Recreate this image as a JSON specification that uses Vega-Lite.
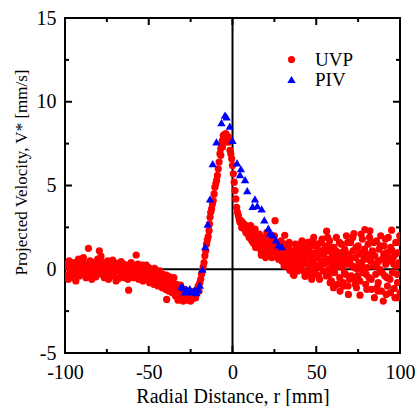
{
  "$schema": "https://vega.github.io/schema/vega-lite/v6.json",
  "width": 335,
  "height": 335,
  "autosize": {"type": "none"},
  "padding": {"left": 65, "top": 18, "right": 16, "bottom": 53},
  "background": "white",
  "config": {
    "view": {"stroke": "black", "strokeWidth": 2},
    "font": "Liberation Serif",
    "scale": {"continuousPadding": 0},
    "axis": {
      "domain": false,
      "grid": false,
      "ticks": false,
      "labelFlush": false,
      "labelOverlap": false,
      "labelColor": "black",
      "labelFont": "Liberation Serif",
      "labelFontSize": 20,
      "titleFont": "Liberation Serif",
      "titleFontWeight": "normal",
      "titleColor": "black"
    }
  },
  "datasets": {
    "xmajor": [{"t": -50}, {"t": 0}, {"t": 50}],
    "xminor": [{"t": -75}, {"t": -25}, {"t": 25}, {"t": 75}],
    "ymajor": [{"t": 0}, {"t": 5}, {"t": 10}],
    "yminor": [{"t": -2.5}, {"t": 2.5}, {"t": 7.5}, {"t": 12.5}],
    "pts": [
      {"r": -99.5, "v": 0.3, "s": "UVP"}, {"r": -99, "v": -0.4, "s": "UVP"}, {"r": -98.5, "v": 0.1, "s": "UVP"}, {"r": -98, "v": -0.6, "s": "UVP"}, {"r": -97.5, "v": 0.5, "s": "UVP"}, {"r": -97, "v": -0.2, "s": "UVP"}, {"r": -96.5, "v": 0.2, "s": "UVP"}, {"r": -96, "v": -0.5, "s": "UVP"}, {"r": -95.5, "v": 0.0, "s": "UVP"}, {"r": -95, "v": 0.4, "s": "UVP"},
      {"r": -94.5, "v": -0.3, "s": "UVP"}, {"r": -94, "v": 0.1, "s": "UVP"}, {"r": -93.5, "v": -0.7, "s": "UVP"}, {"r": -93, "v": 0.3, "s": "UVP"}, {"r": -92.5, "v": -0.1, "s": "UVP"}, {"r": -92, "v": 0.6, "s": "UVP"}, {"r": -91.5, "v": -0.4, "s": "UVP"}, {"r": -91, "v": 0.2, "s": "UVP"}, {"r": -90.5, "v": 0.0, "s": "UVP"}, {"r": -90, "v": -0.3, "s": "UVP"},
      {"r": -89.5, "v": 0.45, "s": "UVP"}, {"r": -89, "v": 0.7, "s": "UVP"}, {"r": -88.5, "v": -0.2, "s": "UVP"}, {"r": -88, "v": 0.1, "s": "UVP"}, {"r": -87.5, "v": -0.5, "s": "UVP"}, {"r": -87, "v": 0.3, "s": "UVP"}, {"r": -86.5, "v": 0.0, "s": "UVP"}, {"r": -86, "v": 1.25, "s": "UVP"}, {"r": -85.5, "v": -0.3, "s": "UVP"}, {"r": -85, "v": 0.5, "s": "UVP"},
      {"r": -84.5, "v": 0.2, "s": "UVP"}, {"r": -84, "v": -0.6, "s": "UVP"}, {"r": -83.5, "v": 0.1, "s": "UVP"}, {"r": -83, "v": 0.4, "s": "UVP"}, {"r": -82.5, "v": -0.2, "s": "UVP"}, {"r": -82, "v": 0.0, "s": "UVP"}, {"r": -81.5, "v": -0.45, "s": "UVP"}, {"r": -81, "v": 0.3, "s": "UVP"}, {"r": -80.5, "v": 0.6, "s": "UVP"}, {"r": -80, "v": -0.1, "s": "UVP"},
      {"r": -79.5, "v": 1.1, "s": "UVP"}, {"r": -79, "v": 0.2, "s": "UVP"}, {"r": -78.5, "v": 0.78, "s": "UVP"}, {"r": -78, "v": -0.3, "s": "UVP"}, {"r": -77.5, "v": 0.0, "s": "UVP"}, {"r": -77, "v": 0.4, "s": "UVP"}, {"r": -76.5, "v": -0.5, "s": "UVP"}, {"r": -76, "v": 0.1, "s": "UVP"}, {"r": -75.5, "v": 0.25, "s": "UVP"}, {"r": -75, "v": -0.2, "s": "UVP"},
      {"r": -74.5, "v": 0.5, "s": "UVP"}, {"r": -74, "v": -0.6, "s": "UVP"}, {"r": -73.5, "v": 0.0, "s": "UVP"}, {"r": -73, "v": 0.3, "s": "UVP"}, {"r": -72.5, "v": -0.3, "s": "UVP"}, {"r": -72, "v": 0.1, "s": "UVP"}, {"r": -71.5, "v": 0.55, "s": "UVP"}, {"r": -71, "v": -0.4, "s": "UVP"}, {"r": -70.5, "v": 0.2, "s": "UVP"}, {"r": -70, "v": -0.1, "s": "UVP"},
      {"r": -69.5, "v": -0.7, "s": "UVP"}, {"r": -69, "v": 0.35, "s": "UVP"}, {"r": -68.5, "v": 0.0, "s": "UVP"}, {"r": -68, "v": -0.55, "s": "UVP"}, {"r": -67.5, "v": 0.2, "s": "UVP"}, {"r": -67, "v": -0.2, "s": "UVP"}, {"r": -66.5, "v": 0.45, "s": "UVP"}, {"r": -66, "v": -0.35, "s": "UVP"}, {"r": -65.5, "v": 0.1, "s": "UVP"}, {"r": -65, "v": 0.3, "s": "UVP"},
      {"r": -64.5, "v": -0.5, "s": "UVP"}, {"r": -64, "v": 0.0, "s": "UVP"}, {"r": -63.5, "v": -0.2, "s": "UVP"}, {"r": -63, "v": 0.25, "s": "UVP"}, {"r": -62.5, "v": -0.6, "s": "UVP"}, {"r": -62, "v": -1.25, "s": "UVP"}, {"r": -61.5, "v": 0.1, "s": "UVP"}, {"r": -61, "v": -0.3, "s": "UVP"}, {"r": -60.5, "v": 0.4, "s": "UVP"}, {"r": -60, "v": -0.15, "s": "UVP"},
      {"r": -59.5, "v": 0.0, "s": "UVP"}, {"r": -59, "v": -0.5, "s": "UVP"}, {"r": -58.5, "v": 0.2, "s": "UVP"}, {"r": -58, "v": -0.35, "s": "UVP"}, {"r": -57.5, "v": 0.85, "s": "UVP"}, {"r": -57, "v": -0.1, "s": "UVP"}, {"r": -56.5, "v": 0.3, "s": "UVP"}, {"r": -56, "v": -0.6, "s": "UVP"}, {"r": -55.5, "v": -0.2, "s": "UVP"}, {"r": -55, "v": 0.1, "s": "UVP"},
      {"r": -54.5, "v": -0.45, "s": "UVP"}, {"r": -54, "v": 0.25, "s": "UVP"}, {"r": -53.5, "v": -0.7, "s": "UVP"}, {"r": -53, "v": -0.1, "s": "UVP"}, {"r": -52.5, "v": 0.0, "s": "UVP"}, {"r": -52, "v": -0.4, "s": "UVP"}, {"r": -51.5, "v": 0.24, "s": "UVP"}, {"r": -51, "v": -0.6, "s": "UVP"}, {"r": -50.5, "v": -0.2, "s": "UVP"}, {"r": -50, "v": 0.1, "s": "UVP"},
      {"r": -49.5, "v": -0.8, "s": "UVP"}, {"r": -49, "v": -0.3, "s": "UVP"}, {"r": -48.5, "v": 0.0, "s": "UVP"}, {"r": -48, "v": -0.55, "s": "UVP"}, {"r": -47.5, "v": -0.2, "s": "UVP"}, {"r": -47, "v": -0.9, "s": "UVP"}, {"r": -46.5, "v": 0.05, "s": "UVP"}, {"r": -46, "v": -0.45, "s": "UVP"}, {"r": -45.5, "v": -0.7, "s": "UVP"}, {"r": -45, "v": -0.15, "s": "UVP"},
      {"r": -44.5, "v": -1.0, "s": "UVP"}, {"r": -44, "v": -0.4, "s": "UVP"}, {"r": -43.5, "v": -0.1, "s": "UVP"}, {"r": -43, "v": -0.75, "s": "UVP"}, {"r": -42.5, "v": -0.5, "s": "UVP"}, {"r": -42, "v": -1.1, "s": "UVP"}, {"r": -41.5, "v": -0.3, "s": "UVP"}, {"r": -41, "v": -0.8, "s": "UVP"}, {"r": -40.5, "v": -0.55, "s": "UVP"}, {"r": -40, "v": -1.2, "s": "UVP"},
      {"r": -39.5, "v": -0.35, "s": "UVP"}, {"r": -39.3, "v": -1.8, "s": "UVP"}, {"r": -39, "v": -0.9, "s": "UVP"}, {"r": -38.5, "v": -0.6, "s": "UVP"}, {"r": -38, "v": -1.3, "s": "UVP"}, {"r": -37.5, "v": -0.45, "s": "UVP"}, {"r": -37, "v": -1.0, "s": "UVP"}, {"r": -36.5, "v": -0.7, "s": "UVP"}, {"r": -36, "v": -1.4, "s": "UVP"}, {"r": -35.5, "v": -0.85, "s": "UVP"},
      {"r": -35, "v": -0.5, "s": "UVP"}, {"r": -34.5, "v": -1.1, "s": "UVP"}, {"r": -34, "v": -1.6, "s": "UVP"}, {"r": -33.5, "v": -0.9, "s": "UVP"}, {"r": -33, "v": -1.4, "s": "UVP"}, {"r": -32.5, "v": -1.85, "s": "UVP"}, {"r": -32, "v": -1.2, "s": "UVP"}, {"r": -31.5, "v": -1.6, "s": "UVP"}, {"r": -31, "v": -0.95, "s": "UVP"}, {"r": -30.5, "v": -1.75, "s": "UVP"},
      {"r": -30, "v": -1.35, "s": "UVP"}, {"r": -29.5, "v": -1.9, "s": "UVP"}, {"r": -29, "v": -1.5, "s": "UVP"}, {"r": -28.5, "v": -1.2, "s": "UVP"}, {"r": -28, "v": -1.8, "s": "UVP"}, {"r": -27.5, "v": -1.55, "s": "UVP"}, {"r": -27, "v": -1.3, "s": "UVP"}, {"r": -26.5, "v": -1.85, "s": "UVP"}, {"r": -26, "v": -1.6, "s": "UVP"}, {"r": -25.5, "v": -1.4, "s": "UVP"},
      {"r": -25, "v": -1.9, "s": "UVP"}, {"r": -24.5, "v": -1.65, "s": "UVP"}, {"r": -24, "v": -1.45, "s": "UVP"}, {"r": -23.5, "v": -1.75, "s": "UVP"}, {"r": -23, "v": -1.5, "s": "UVP"}, {"r": -22.5, "v": -1.3, "s": "UVP"}, {"r": -22, "v": -1.7, "s": "UVP"}, {"r": -21.5, "v": -1.45, "s": "UVP"}, {"r": -21, "v": -1.2, "s": "UVP"}, {"r": -20.5, "v": -1.0, "s": "UVP"},
      {"r": -20, "v": -1.3, "s": "UVP"}, {"r": -19.5, "v": -0.8, "s": "UVP"}, {"r": -19, "v": -0.6, "s": "UVP"}, {"r": -18.5, "v": -0.3, "s": "UVP"}, {"r": -18, "v": -0.1, "s": "UVP"}, {"r": -17.5, "v": 0.15, "s": "UVP"}, {"r": -17, "v": 0.4, "s": "UVP"}, {"r": -16.5, "v": 0.8, "s": "UVP"}, {"r": -16, "v": 1.1, "s": "UVP"}, {"r": -15.5, "v": 1.5, "s": "UVP"},
      {"r": -15, "v": 1.75, "s": "UVP"}, {"r": -14.5, "v": 1.95, "s": "UVP"}, {"r": -14, "v": 2.3, "s": "UVP"}, {"r": -13.7, "v": 2.7, "s": "UVP"}, {"r": -13.4, "v": 3.1, "s": "UVP"}, {"r": -13, "v": 3.4, "s": "UVP"}, {"r": -12.5, "v": 3.6, "s": "UVP"}, {"r": -12, "v": 3.9, "s": "UVP"}, {"r": -11.5, "v": 4.1, "s": "UVP"}, {"r": -11, "v": 4.5, "s": "UVP"},
      {"r": -10.5, "v": 4.9, "s": "UVP"}, {"r": -10, "v": 5.1, "s": "UVP"}, {"r": -9.5, "v": 5.3, "s": "UVP"}, {"r": -9, "v": 5.6, "s": "UVP"}, {"r": -8.5, "v": 6.0, "s": "UVP"}, {"r": -8, "v": 6.4, "s": "UVP"}, {"r": -7.5, "v": 6.9, "s": "UVP"}, {"r": -7, "v": 7.2, "s": "UVP"}, {"r": -7, "v": 6.8, "s": "UVP"}, {"r": -6.5, "v": 7.5, "s": "UVP"},
      {"r": -6, "v": 7.7, "s": "UVP"}, {"r": -6, "v": 7.3, "s": "UVP"}, {"r": -5.5, "v": 8.0, "s": "UVP"}, {"r": -5.5, "v": 7.6, "s": "UVP"}, {"r": -5, "v": 7.8, "s": "UVP"}, {"r": -4.5, "v": 8.05, "s": "UVP"}, {"r": -4, "v": 7.9, "s": "UVP"}, {"r": -4, "v": 8.1, "s": "UVP"}, {"r": -3.5, "v": 8.0, "s": "UVP"}, {"r": -3, "v": 7.85, "s": "UVP"},
      {"r": -3, "v": 7.6, "s": "UVP"}, {"r": -2.5, "v": 7.9, "s": "UVP"}, {"r": -2, "v": 7.6, "s": "UVP"}, {"r": -1.5, "v": 7.1, "s": "UVP"}, {"r": -1, "v": 6.9, "s": "UVP"}, {"r": -0.5, "v": 6.6, "s": "UVP"}, {"r": 0, "v": 6.2, "s": "UVP"}, {"r": 0.5, "v": 5.7, "s": "UVP"}, {"r": 1, "v": 5.2, "s": "UVP"}, {"r": 1.5, "v": 4.7, "s": "UVP"},
      {"r": 2, "v": 4.2, "s": "UVP"}, {"r": 2.5, "v": 3.7, "s": "UVP"}, {"r": 3, "v": 3.4, "s": "UVP"}, {"r": 3.5, "v": 3.2, "s": "UVP"}, {"r": 4, "v": 3.0, "s": "UVP"}, {"r": 4.5, "v": 2.8, "s": "UVP"}, {"r": 5, "v": 2.9, "s": "UVP"}, {"r": 5.5, "v": 2.5, "s": "UVP"}, {"r": 6, "v": 2.8, "s": "UVP"}, {"r": 6.4, "v": 2.7, "s": "UVP"},
      {"r": 7, "v": 2.4, "s": "UVP"}, {"r": 7.5, "v": 2.65, "s": "UVP"}, {"r": 8, "v": 2.2, "s": "UVP"}, {"r": 8.5, "v": 2.5, "s": "UVP"}, {"r": 9, "v": 2.1, "s": "UVP"}, {"r": 9.3, "v": 2.35, "s": "UVP"}, {"r": 10, "v": 1.9, "s": "UVP"}, {"r": 10.4, "v": 2.3, "s": "UVP"}, {"r": 11, "v": 2.0, "s": "UVP"}, {"r": 11.5, "v": 1.7, "s": "UVP"},
      {"r": 12, "v": 2.2, "s": "UVP"}, {"r": 12.5, "v": 1.55, "s": "UVP"}, {"r": 13, "v": 1.9, "s": "UVP"}, {"r": 13.5, "v": 2.4, "s": "UVP"}, {"r": 14, "v": 1.6, "s": "UVP"}, {"r": 14.4, "v": 1.95, "s": "UVP"}, {"r": 15, "v": 1.3, "s": "UVP"}, {"r": 15.5, "v": 1.8, "s": "UVP"}, {"r": 16, "v": 2.1, "s": "UVP"}, {"r": 16.5, "v": 1.4, "s": "UVP"},
      {"r": 17, "v": 1.1, "s": "UVP"}, {"r": 17.2, "v": 0.84, "s": "UVP"}, {"r": 17.5, "v": 1.7, "s": "UVP"}, {"r": 18, "v": 1.3, "s": "UVP"}, {"r": 18.4, "v": 1.55, "s": "UVP"}, {"r": 19, "v": 1.9, "s": "UVP"}, {"r": 19.5, "v": 1.0, "s": "UVP"}, {"r": 20, "v": 1.4, "s": "UVP"}, {"r": 20.5, "v": 2.2, "s": "UVP"}, {"r": 21, "v": 0.9, "s": "UVP"},
      {"r": 21.5, "v": 1.6, "s": "UVP"}, {"r": 22, "v": 1.2, "s": "UVP"}, {"r": 22.4, "v": 1.1, "s": "UVP"}, {"r": 23, "v": 1.8, "s": "UVP"}, {"r": 23.5, "v": 0.7, "s": "UVP"}, {"r": 24, "v": 1.35, "s": "UVP"}, {"r": 24.5, "v": 1.0, "s": "UVP"}, {"r": 25, "v": 2.0, "s": "UVP"}, {"r": 25.4, "v": 2.9, "s": "UVP"}, {"r": 26, "v": 0.8, "s": "UVP"},
      {"r": 26.5, "v": 1.5, "s": "UVP"}, {"r": 27, "v": 1.1, "s": "UVP"}, {"r": 27.5, "v": 0.6, "s": "UVP"}, {"r": 28, "v": 1.3, "s": "UVP"}, {"r": 28.5, "v": 0.9, "s": "UVP"}, {"r": 29, "v": 1.7, "s": "UVP"}, {"r": 29.5, "v": 0.5, "s": "UVP"}, {"r": 30, "v": 1.2, "s": "UVP"}, {"r": 30.5, "v": 0.8, "s": "UVP"}, {"r": 31, "v": 1.5, "s": "UVP"},
      {"r": 31.2, "v": 2.03, "s": "UVP"}, {"r": 32, "v": 0.4, "s": "UVP"}, {"r": 32.5, "v": 1.0, "s": "UVP"}, {"r": 33, "v": 0.7, "s": "UVP"}, {"r": 33.5, "v": 1.3, "s": "UVP"}, {"r": 34, "v": 0.2, "s": "UVP"}, {"r": 34.2, "v": -0.06, "s": "UVP"}, {"r": 35, "v": 0.9, "s": "UVP"}, {"r": 35.5, "v": 0.4, "s": "UVP"}, {"r": 36, "v": 1.1, "s": "UVP"},
      {"r": 10.8, "v": 2.6, "s": "UVP"}, {"r": 13.8, "v": 1.3, "s": "UVP"}, {"r": 16.8, "v": 1.8, "s": "UVP"}, {"r": 19.8, "v": 0.7, "s": "UVP"}, {"r": 22.8, "v": 1.5, "s": "UVP"}, {"r": 25.8, "v": 1.2, "s": "UVP"}, {"r": 28.8, "v": 1.0, "s": "UVP"}, {"r": 31.8, "v": 0.6, "s": "UVP"}, {"r": 33.8, "v": 1.6, "s": "UVP"}, {"r": 30.8, "v": 0.2, "s": "UVP"},
      {"r": 36.3, "v": -0.3, "s": "UVP"}, {"r": 36.7, "v": -0.36, "s": "UVP"}, {"r": 37, "v": 0.6, "s": "UVP"}, {"r": 37.5, "v": 1.5, "s": "UVP"}, {"r": 38, "v": 0.2, "s": "UVP"}, {"r": 38.5, "v": 0.9, "s": "UVP"}, {"r": 39, "v": -0.1, "s": "UVP"}, {"r": 39.5, "v": 1.3, "s": "UVP"}, {"r": 40, "v": 0.5, "s": "UVP"}, {"r": 40.5, "v": 0.0, "s": "UVP"},
      {"r": 41, "v": 1.0, "s": "UVP"}, {"r": 41.5, "v": 1.7, "s": "UVP"}, {"r": 42, "v": 0.3, "s": "UVP"}, {"r": 42.5, "v": 0.7, "s": "UVP"}, {"r": 43, "v": -0.2, "s": "UVP"}, {"r": 43.3, "v": -0.42, "s": "UVP"}, {"r": 44, "v": 1.2, "s": "UVP"}, {"r": 44.5, "v": 0.4, "s": "UVP"}, {"r": 45, "v": 1.6, "s": "UVP"}, {"r": 45.5, "v": 0.1, "s": "UVP"},
      {"r": 46, "v": 0.8, "s": "UVP"}, {"r": 46.5, "v": -0.35, "s": "UVP"}, {"r": 47, "v": 1.4, "s": "UVP"}, {"r": 47.5, "v": 0.6, "s": "UVP"}, {"r": 48, "v": 0.0, "s": "UVP"}, {"r": 48.5, "v": 1.9, "s": "UVP"}, {"r": 49, "v": 0.3, "s": "UVP"}, {"r": 49.5, "v": 1.0, "s": "UVP"}, {"r": 50, "v": -0.3, "s": "UVP"}, {"r": 50.5, "v": 0.7, "s": "UVP"},
      {"r": 51, "v": 1.5, "s": "UVP"}, {"r": 51.5, "v": 0.2, "s": "UVP"}, {"r": 52, "v": -0.6, "s": "UVP"}, {"r": 52.5, "v": 1.1, "s": "UVP"}, {"r": 53, "v": 0.5, "s": "UVP"}, {"r": 53.5, "v": 1.8, "s": "UVP"}, {"r": 54, "v": -0.1, "s": "UVP"}, {"r": 54.5, "v": 0.9, "s": "UVP"}, {"r": 55, "v": 0.35, "s": "UVP"}, {"r": 55.5, "v": 1.4, "s": "UVP"},
      {"r": 56, "v": -0.4, "s": "UVP"}, {"r": 56.2, "v": 2.27, "s": "UVP"}, {"r": 56.5, "v": 0.6, "s": "UVP"}, {"r": 57, "v": 1.1, "s": "UVP"}, {"r": 57.5, "v": 0.0, "s": "UVP"}, {"r": 58, "v": 1.7, "s": "UVP"}, {"r": 58.5, "v": 0.4, "s": "UVP"}, {"r": 59, "v": -0.7, "s": "UVP"}, {"r": 59.5, "v": 0.9, "s": "UVP"}, {"r": 60, "v": 0.2, "s": "UVP"},
      {"r": 60.5, "v": 1.3, "s": "UVP"}, {"r": 61, "v": -0.2, "s": "UVP"}, {"r": 61.5, "v": 0.7, "s": "UVP"}, {"r": 62, "v": 1.9, "s": "UVP"}, {"r": 62.5, "v": -0.9, "s": "UVP"}, {"r": 63, "v": 0.4, "s": "UVP"}, {"r": 63.5, "v": 1.0, "s": "UVP"}, {"r": 64, "v": -0.5, "s": "UVP"}, {"r": 64.2, "v": -1.3, "s": "UVP"}, {"r": 64.5, "v": 0.8, "s": "UVP"},
      {"r": 65, "v": 1.5, "s": "UVP"}, {"r": 65.5, "v": 0.1, "s": "UVP"}, {"r": 66, "v": -0.8, "s": "UVP"}, {"r": 66.5, "v": 0.6, "s": "UVP"}, {"r": 67, "v": 1.2, "s": "UVP"}, {"r": 67.5, "v": -0.3, "s": "UVP"}, {"r": 68, "v": 2.0, "s": "UVP"}, {"r": 68.5, "v": 0.3, "s": "UVP"}, {"r": 69, "v": -1.0, "s": "UVP"}, {"r": 69.2, "v": -1.5, "s": "UVP"},
      {"r": 69.5, "v": 0.9, "s": "UVP"}, {"r": 70, "v": 0.5, "s": "UVP"}, {"r": 70.5, "v": 1.6, "s": "UVP"}, {"r": 71, "v": -0.4, "s": "UVP"}, {"r": 71.5, "v": 0.2, "s": "UVP"}, {"r": 72, "v": 1.1, "s": "UVP"}, {"r": 72.5, "v": 2.13, "s": "UVP"}, {"r": 73, "v": -0.6, "s": "UVP"}, {"r": 73.5, "v": 0.7, "s": "UVP"}, {"r": 74, "v": -1.1, "s": "UVP"},
      {"r": 74.5, "v": 0.0, "s": "UVP"}, {"r": 75, "v": 1.4, "s": "UVP"}, {"r": 75.5, "v": 0.4, "s": "UVP"}, {"r": 76, "v": -0.7, "s": "UVP"}, {"r": 76.1, "v": -1.55, "s": "UVP"}, {"r": 76.5, "v": 1.0, "s": "UVP"}, {"r": 77, "v": 0.3, "s": "UVP"}, {"r": 77.5, "v": 1.8, "s": "UVP"}, {"r": 78, "v": -0.2, "s": "UVP"}, {"r": 78.5, "v": 0.6, "s": "UVP"},
      {"r": 79, "v": 2.37, "s": "UVP"}, {"r": 79.5, "v": -0.9, "s": "UVP"}, {"r": 80, "v": 0.9, "s": "UVP"}, {"r": 80.5, "v": 0.1, "s": "UVP"}, {"r": 81, "v": 1.5, "s": "UVP"}, {"r": 81.5, "v": -0.5, "s": "UVP"}, {"r": 82, "v": 2.29, "s": "UVP"}, {"r": 82.5, "v": 0.5, "s": "UVP"}, {"r": 83, "v": -1.2, "s": "UVP"}, {"r": 83.5, "v": 1.1, "s": "UVP"},
      {"r": 84, "v": 0.2, "s": "UVP"}, {"r": 84.7, "v": -1.7, "s": "UVP"}, {"r": 85, "v": 0.8, "s": "UVP"}, {"r": 85.5, "v": -0.3, "s": "UVP"}, {"r": 86, "v": 1.7, "s": "UVP"}, {"r": 86.5, "v": 0.4, "s": "UVP"}, {"r": 87, "v": -0.8, "s": "UVP"}, {"r": 87.5, "v": 1.2, "s": "UVP"}, {"r": 88, "v": 0.0, "s": "UVP"}, {"r": 88.5, "v": 2.0, "s": "UVP"},
      {"r": 89, "v": -1.3, "s": "UVP"}, {"r": 89.5, "v": 0.6, "s": "UVP"}, {"r": 90, "v": -1.9, "s": "UVP"}, {"r": 90.5, "v": 1.4, "s": "UVP"}, {"r": 91, "v": -0.4, "s": "UVP"}, {"r": 91.5, "v": 0.3, "s": "UVP"}, {"r": 92, "v": 1.0, "s": "UVP"}, {"r": 92.5, "v": -1.0, "s": "UVP"}, {"r": 93, "v": 1.9, "s": "UVP"}, {"r": 93.5, "v": 0.5, "s": "UVP"},
      {"r": 94, "v": -0.6, "s": "UVP"}, {"r": 94.5, "v": 1.3, "s": "UVP"}, {"r": 95, "v": 2.33, "s": "UVP"}, {"r": 95.5, "v": -0.2, "s": "UVP"}, {"r": 96, "v": 0.7, "s": "UVP"}, {"r": 96.5, "v": -1.15, "s": "UVP"}, {"r": 97, "v": -1.7, "s": "UVP"}, {"r": 97.5, "v": 1.6, "s": "UVP"}, {"r": 98, "v": 0.2, "s": "UVP"}, {"r": 98.5, "v": -0.8, "s": "UVP"},
      {"r": 99, "v": 1.0, "s": "UVP"}, {"r": 99.5, "v": 0.4, "s": "UVP"}, {"r": 100, "v": -1.4, "s": "UVP"}, {"r": 99.8, "v": 2.0, "s": "UVP"},
      {"r": 35.8, "v": 0.7, "s": "UVP"}, {"r": 37.3, "v": 0.1, "s": "UVP"}, {"r": 38.2, "v": 1.2, "s": "UVP"}, {"r": 39.2, "v": 0.5, "s": "UVP"}, {"r": 40.3, "v": 1.5, "s": "UVP"}, {"r": 41.3, "v": 0.6, "s": "UVP"}, {"r": 42.3, "v": 1.3, "s": "UVP"}, {"r": 43.6, "v": 0.9, "s": "UVP"}, {"r": 44.8, "v": -0.1, "s": "UVP"}, {"r": 45.8, "v": 1.1, "s": "UVP"},
      {"r": 46.8, "v": 0.3, "s": "UVP"}, {"r": 47.8, "v": 1.7, "s": "UVP"}, {"r": 48.8, "v": 0.8, "s": "UVP"}, {"r": 49.8, "v": 1.4, "s": "UVP"}, {"r": 50.8, "v": 0.1, "s": "UVP"}, {"r": 51.8, "v": 0.9, "s": "UVP"}, {"r": 52.8, "v": 1.6, "s": "UVP"}, {"r": 53.8, "v": 0.3, "s": "UVP"}, {"r": 54.8, "v": 1.2, "s": "UVP"}, {"r": 55.8, "v": 0.5, "s": "UVP"},
      {"r": 56.8, "v": 1.9, "s": "UVP"}, {"r": 57.8, "v": -0.3, "s": "UVP"}, {"r": 58.8, "v": 1.3, "s": "UVP"}, {"r": 59.8, "v": 0.6, "s": "UVP"}, {"r": 60.8, "v": 0.0, "s": "UVP"}, {"r": 61.8, "v": 1.1, "s": "UVP"}, {"r": 62.8, "v": 0.2, "s": "UVP"}, {"r": 63.8, "v": 1.6, "s": "UVP"}, {"r": 64.8, "v": 0.4, "s": "UVP"}, {"r": 65.8, "v": 1.0, "s": "UVP"},
      {"r": 66.8, "v": -0.2, "s": "UVP"}, {"r": 67.8, "v": 0.8, "s": "UVP"}, {"r": 68.8, "v": 1.6, "s": "UVP"}, {"r": 69.8, "v": -0.6, "s": "UVP"}, {"r": 70.8, "v": 0.7, "s": "UVP"}, {"r": 71.8, "v": 1.9, "s": "UVP"}, {"r": 72.8, "v": 0.1, "s": "UVP"}, {"r": 73.8, "v": 1.3, "s": "UVP"}, {"r": 74.8, "v": -0.4, "s": "UVP"}, {"r": 75.8, "v": 0.9, "s": "UVP"},
      {"r": 76.8, "v": 2.1, "s": "UVP"}, {"r": 77.8, "v": 0.0, "s": "UVP"}, {"r": 78.8, "v": 1.2, "s": "UVP"}, {"r": 79.8, "v": -0.3, "s": "UVP"}, {"r": 80.8, "v": 0.6, "s": "UVP"}, {"r": 81.8, "v": 1.9, "s": "UVP"}, {"r": 82.8, "v": -0.6, "s": "UVP"}, {"r": 83.8, "v": 0.9, "s": "UVP"}, {"r": 84.4, "v": 1.6, "s": "UVP"}, {"r": 85.3, "v": 0.2, "s": "UVP"},
      {"r": 86.3, "v": -1.1, "s": "UVP"}, {"r": 87.3, "v": 0.5, "s": "UVP"}, {"r": 88.3, "v": 1.4, "s": "UVP"}, {"r": 89.3, "v": -0.2, "s": "UVP"}, {"r": 90.3, "v": 0.9, "s": "UVP"}, {"r": 91.3, "v": 1.8, "s": "UVP"}, {"r": 92.3, "v": -0.5, "s": "UVP"}, {"r": 93.3, "v": 0.7, "s": "UVP"}, {"r": 94.3, "v": -1.4, "s": "UVP"}, {"r": 95.3, "v": 1.1, "s": "UVP"},
      {"r": 96.3, "v": 0.3, "s": "UVP"}, {"r": 97.3, "v": 0.9, "s": "UVP"}, {"r": 98.3, "v": -0.3, "s": "UVP"}, {"r": 99.3, "v": 1.6, "s": "UVP"}, {"r": 98.8, "v": -1.7, "s": "UVP"}, {"r": 91.8, "v": -1.5, "s": "UVP"}, {"r": 86.8, "v": -1.3, "s": "UVP"}, {"r": 80.2, "v": -1.2, "s": "UVP"}, {"r": 73.3, "v": -0.9, "s": "UVP"}, {"r": 66.3, "v": -1.0, "s": "UVP"},
      {"r": 58.3, "v": -0.8, "s": "UVP"}, {"r": 60.3, "v": -1.1, "s": "UVP"}, {"r": 47.3, "v": -0.6, "s": "UVP"}, {"r": 51.3, "v": -0.4, "s": "UVP"},
      {"r": -30.5, "v": -1.0, "s": "PIV"}, {"r": -29.5, "v": -1.1, "s": "PIV"}, {"r": -28.5, "v": -1.35, "s": "PIV"}, {"r": -27.5, "v": -1.2, "s": "PIV"}, {"r": -26.5, "v": -1.3, "s": "PIV"}, {"r": -25.5, "v": -1.15, "s": "PIV"}, {"r": -24.5, "v": -1.35, "s": "PIV"}, {"r": -23.5, "v": -1.3, "s": "PIV"}, {"r": -22.5, "v": -1.25, "s": "PIV"}, {"r": -21.5, "v": -1.4, "s": "PIV"},
      {"r": -20.5, "v": -1.2, "s": "PIV"}, {"r": -19.5, "v": -0.95, "s": "PIV"}, {"r": -18, "v": 0.0, "s": "PIV"}, {"r": -16.3, "v": 1.35, "s": "PIV"}, {"r": -14.8, "v": 2.7, "s": "PIV"}, {"r": -13.4, "v": 4.2, "s": "PIV"}, {"r": -11.8, "v": 6.3, "s": "PIV"}, {"r": -9.6, "v": 7.6, "s": "PIV"}, {"r": -6.6, "v": 8.75, "s": "PIV"}, {"r": -4.5, "v": 9.2, "s": "PIV"},
      {"r": -3.5, "v": 9.1, "s": "PIV"}, {"r": -1.6, "v": 8.55, "s": "PIV"}, {"r": 0.0, "v": 7.7, "s": "PIV"}, {"r": 2.7, "v": 6.35, "s": "PIV"}, {"r": 5.0, "v": 6.0, "s": "PIV"}, {"r": 4.5, "v": 5.65, "s": "PIV"}, {"r": 7.5, "v": 5.35, "s": "PIV"}, {"r": 8.8, "v": 4.7, "s": "PIV"}, {"r": 12.0, "v": 3.75, "s": "PIV"}, {"r": 13.4, "v": 4.2, "s": "PIV"},
      {"r": 14.8, "v": 3.8, "s": "PIV"}, {"r": 17.4, "v": 3.6, "s": "PIV"}, {"r": 19.0, "v": 2.95, "s": "PIV"}, {"r": 21.4, "v": 2.45, "s": "PIV"}, {"r": 22.5, "v": 2.15, "s": "PIV"}, {"r": 24.0, "v": 2.05, "s": "PIV"}, {"r": 26.0, "v": 1.75, "s": "PIV"}, {"r": 27.5, "v": 1.45, "s": "PIV"}, {"r": 29.4, "v": 1.35, "s": "PIV"}
    ]
  },
  "resolve": {"axis": {"x": "independent", "y": "independent"}},
  "layer": [
    {
      "data": {"values": [{"z": 0}]},
      "mark": {"type": "tick", "color": "black", "orient": "vertical", "thickness": 2, "size": 335, "opacity": 1},
      "encoding": {
        "x": {"field": "z", "type": "quantitative", "scale": {"domain": [-100, 100], "nice": false, "padding": 0, "zero": false}, "axis": null},
        "y": {"datum": 5, "type": "quantitative", "scale": {"domain": [-5, 15], "nice": false, "padding": 0, "zero": false}, "axis": null}
      }
    },
    {
      "data": {"values": [{"z": 0}]},
      "mark": {"type": "tick", "color": "black", "orient": "horizontal", "thickness": 2, "size": 335, "opacity": 1},
      "encoding": {
        "y": {"field": "z", "type": "quantitative", "scale": {"domain": [-5, 15], "nice": false, "padding": 0, "zero": false}, "axis": null},
        "x": {"datum": 0, "type": "quantitative", "scale": {"domain": [-100, 100], "nice": false, "padding": 0, "zero": false}, "axis": null}
      }
    },
    {
      "data": {"name": "xmajor"},
      "mark": {"type": "bar", "color": "black", "size": 2, "opacity": 1},
      "encoding": {
        "x": {"field": "t", "type": "quantitative", "scale": {"domain": [-100, 100], "nice": false, "padding": 0, "zero": false}, "axis": null},
        "y": {"datum": -5, "type": "quantitative", "scale": {"domain": [-5, 15], "nice": false, "padding": 0, "zero": false}, "axis": null},
        "y2": {"datum": -4.58}
      }
    },
    {
      "data": {"name": "xmajor"},
      "mark": {"type": "bar", "color": "black", "size": 2, "opacity": 1},
      "encoding": {
        "x": {"field": "t", "type": "quantitative", "scale": {"domain": [-100, 100], "nice": false, "padding": 0, "zero": false}, "axis": null},
        "y": {"datum": 15, "type": "quantitative", "scale": {"domain": [-5, 15], "nice": false, "padding": 0, "zero": false}, "axis": null},
        "y2": {"datum": 14.58}
      }
    },
    {
      "data": {"name": "xminor"},
      "mark": {"type": "bar", "color": "black", "size": 2, "opacity": 1},
      "encoding": {
        "x": {"field": "t", "type": "quantitative", "scale": {"domain": [-100, 100], "nice": false, "padding": 0, "zero": false}, "axis": null},
        "y": {"datum": -5, "type": "quantitative", "scale": {"domain": [-5, 15], "nice": false, "padding": 0, "zero": false}, "axis": null},
        "y2": {"datum": -4.76}
      }
    },
    {
      "data": {"name": "xminor"},
      "mark": {"type": "bar", "color": "black", "size": 2, "opacity": 1},
      "encoding": {
        "x": {"field": "t", "type": "quantitative", "scale": {"domain": [-100, 100], "nice": false, "padding": 0, "zero": false}, "axis": null},
        "y": {"datum": 15, "type": "quantitative", "scale": {"domain": [-5, 15], "nice": false, "padding": 0, "zero": false}, "axis": null},
        "y2": {"datum": 14.76}
      }
    },
    {
      "data": {"name": "ymajor"},
      "mark": {"type": "bar", "color": "black", "size": 2, "opacity": 1, "orient": "horizontal"},
      "encoding": {
        "y": {"field": "t", "type": "quantitative", "scale": {"domain": [-5, 15], "nice": false, "padding": 0, "zero": false}, "axis": null},
        "x": {"datum": -100, "type": "quantitative", "scale": {"domain": [-100, 100], "nice": false, "padding": 0, "zero": false}, "axis": null},
        "x2": {"datum": -95.8}
      }
    },
    {
      "data": {"name": "ymajor"},
      "mark": {"type": "bar", "color": "black", "size": 2, "opacity": 1, "orient": "horizontal"},
      "encoding": {
        "y": {"field": "t", "type": "quantitative", "scale": {"domain": [-5, 15], "nice": false, "padding": 0, "zero": false}, "axis": null},
        "x": {"datum": 100, "type": "quantitative", "scale": {"domain": [-100, 100], "nice": false, "padding": 0, "zero": false}, "axis": null},
        "x2": {"datum": 95.8}
      }
    },
    {
      "data": {"name": "yminor"},
      "mark": {"type": "bar", "color": "black", "size": 2, "opacity": 1, "orient": "horizontal"},
      "encoding": {
        "y": {"field": "t", "type": "quantitative", "scale": {"domain": [-5, 15], "nice": false, "padding": 0, "zero": false}, "axis": null},
        "x": {"datum": -100, "type": "quantitative", "scale": {"domain": [-100, 100], "nice": false, "padding": 0, "zero": false}, "axis": null},
        "x2": {"datum": -97.6}
      }
    },
    {
      "data": {"name": "yminor"},
      "mark": {"type": "bar", "color": "black", "size": 2, "opacity": 1, "orient": "horizontal"},
      "encoding": {
        "y": {"field": "t", "type": "quantitative", "scale": {"domain": [-5, 15], "nice": false, "padding": 0, "zero": false}, "axis": null},
        "x": {"datum": 100, "type": "quantitative", "scale": {"domain": [-100, 100], "nice": false, "padding": 0, "zero": false}, "axis": null},
        "x2": {"datum": 97.6}
      }
    },
    {
      "data": {"name": "pts"},
      "mark": {"type": "point", "filled": true, "opacity": 1, "clip": true},
      "encoding": {
        "x": {
          "field": "r", "type": "quantitative",
          "scale": {"domain": [-100, 100], "nice": false, "padding": 0, "zero": false},
          "axis": {"orient": "bottom", "values": [-100, -50, 0, 50, 100],
                   "labelExpr": "'' + datum.value",
                   "labelPadding": 9,
                   "title": "Radial Distance, r [mm]", "titleFontSize": 20, "titlePadding": 4}
        },
        "y": {
          "field": "v", "type": "quantitative",
          "scale": {"domain": [-5, 15], "nice": false, "padding": 0, "zero": false},
          "axis": {"orient": "left", "values": [-5, 0, 5, 10, 15],
                   "labelExpr": "'' + datum.value",
                   "labelPadding": 9,
                   "title": "Projected Velocity, V* [mm/s]", "titleFontSize": 17, "titlePadding": 6, "titleY": 154}
        },
        "color": {
          "field": "s", "type": "nominal",
          "scale": {"domain": ["UVP", "PIV"], "range": ["#ff0000", "#0000ff"]},
          "legend": {"orient": "none", "legendX": 217, "legendY": 32, "title": null,
                     "labelFont": "Liberation Serif", "labelFontSize": 19, "labelColor": "black",
                     "labelOffset": 14, "rowPadding": 0, "symbolSize": 60}
        },
        "shape": {
          "field": "s", "type": "nominal",
          "scale": {"domain": ["UVP", "PIV"], "range": ["circle", "triangle-up"]}
        },
        "size": {
          "field": "s", "type": "nominal",
          "scale": {"domain": ["UVP", "PIV"], "range": [52, 70]},
          "legend": null
        },
        "order": {"field": "s", "sort": "descending"}
      }
    }
  ]
}
